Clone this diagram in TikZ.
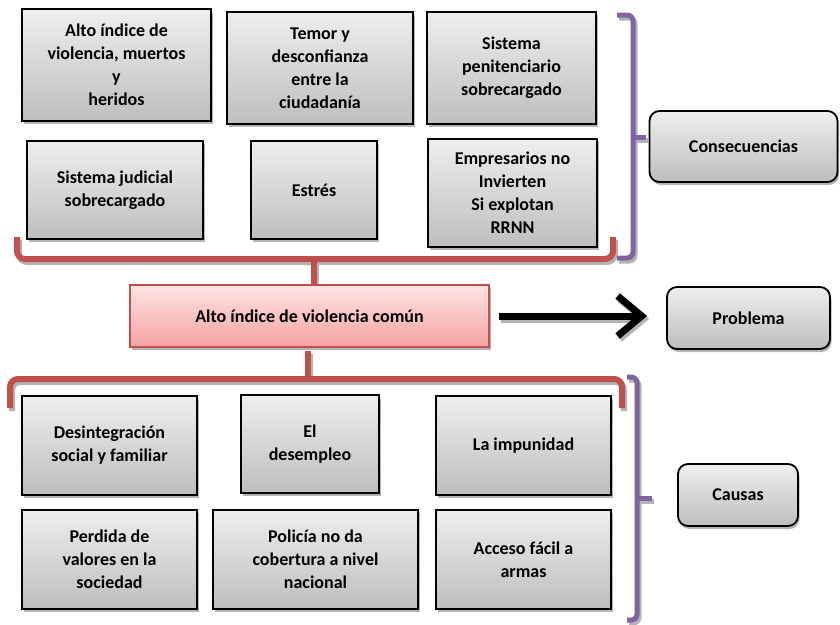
\documentclass[tikz,border=0pt]{standalone}
\usepackage{fontspec}
\setmainfont{Carlito}
\usetikzlibrary{shadows,arrows.meta}
\definecolor{brred}{RGB}{192,80,77}
\definecolor{brpurple}{RGB}{128,100,162}
\definecolor{gtop}{RGB}{238,238,238}
\definecolor{gbot}{RGB}{190,190,190}
\definecolor{rtop}{RGB}{253,228,228}
\definecolor{rbot}{RGB}{245,162,162}
\definecolor{shd}{RGB}{180,180,180}
\tikzset{
  bx/.style={draw=black, line width=1.8pt, top color=gtop, bottom color=gbot,
    drop shadow={shadow xshift=1.5pt, shadow yshift=-3pt, fill=shd, opacity=1},
    align=center, inner sep=0pt, font=\bfseries\fontsize{18}{23}\selectfont},
  rbx/.style={bx, rounded corners=10pt},
  mainbx/.style={bx, draw=brred, line width=1.5pt, top color=rtop, bottom color=rbot},
  redbr/.style={draw=brred, line width=6pt},
  purbr/.style={draw=brpurple, line width=5pt},
  shbr/.style={draw=shd, line width=6pt},
}
\begin{document}
\begin{tikzpicture}[x=1pt,y=-1pt]
\useasboundingbox (0,0) rectangle (840,624);

% bracket shadows
\begin{scope}[shift={(2,3)}]
  \draw[shbr, rounded corners=8pt] (17,237) -- (17,259) -- (613,259) -- (613,237);
  \draw[shbr] (314,259) -- (314,286);
  \draw[shbr, rounded corners=8pt] (10,408) -- (10,379) -- (622,379) -- (622,408);
  \draw[shbr] (308,379) -- (308,351);
  \draw[shbr, line width=5pt, rounded corners=6pt] (617,15) -- (633,15) -- (633,258) -- (617,258);
  \draw[shbr, line width=5pt] (633,137) -- (646,137);
  \draw[shbr, line width=5pt, rounded corners=6pt] (627,377) -- (637,377) -- (637,620) -- (627,620);
  \draw[shbr, line width=5pt] (637,498) -- (652,498);
\end{scope}

% brackets
\draw[redbr, rounded corners=8pt] (17,237) -- (17,259) -- (613,259) -- (613,237);
\draw[redbr] (314,259) -- (314,286);
\draw[redbr, rounded corners=8pt] (10,408) -- (10,379) -- (622,379) -- (622,408);
\draw[redbr] (308,379) -- (308,351);
\draw[purbr, rounded corners=6pt] (617,15) -- (633,15) -- (633,258) -- (617,258);
\draw[purbr] (633,137) -- (646,137);
\draw[purbr, rounded corners=6pt] (627,377) -- (637,377) -- (637,620) -- (627,620);
\draw[purbr] (637,498) -- (652,498);

% consequences
\node[bx, minimum width=189, minimum height=112] (c1) at (116.5,65) {Alto índice de\\violencia, muertos\\y\\heridos};
\node[bx, minimum width=186, minimum height=112] (c2) at (320,68) {Temor y\\desconfianza\\entre la\\ciudadanía};
\node[bx, minimum width=169, minimum height=112] (c3) at (511.5,68) {Sistema\\penitenciario\\sobrecargado};
\node[bx, minimum width=176, minimum height=98] (c4) at (115,190) {Sistema judicial\\sobrecargado};
\node[bx, minimum width=126, minimum height=98] (c5) at (314,190) {Estrés};
\node[bx, minimum width=169, minimum height=108] (c6) at (512.5,193) {Empresarios no\\Invierten\\Si explotan\\RRNN};

% problem
\node[mainbx, minimum width=359, minimum height=62] (main) at (309.5,316) {Alto índice de violencia común};

% causes
\node[bx, minimum width=175, minimum height=99] (k1) at (109.5,445.5) {Desintegración\\social y familiar};
\node[bx, minimum width=138, minimum height=98] (k2) at (310,444) {El\\desempleo};
\node[bx, minimum width=175, minimum height=99] (k3) at (523.5,445.5) {La impunidad};
\node[bx, minimum width=175, minimum height=99] (k4) at (109.5,559.5) {Perdida de\\valores en la\\sociedad};
\node[bx, minimum width=205, minimum height=99] (k5) at (315.5,559.5) {Policía no da\\cobertura a nivel\\nacional};
\node[bx, minimum width=175, minimum height=99] (k6) at (523.5,559.5) {Acceso fácil a\\armas};

% labels
\node[rbx, minimum width=188, minimum height=71] (lcons) at (743.5,146.5) {Consecuencias};
\node[rbx, minimum width=163, minimum height=62] (lprob) at (748.5,318) {Problema};
\node[rbx, minimum width=120, minimum height=62] (lcaus) at (738,495) {Causas};

% arrow
\draw[shd, line width=7pt, -{Straight Barb[length=24pt,width=40pt]}, shorten <=9pt, shorten >=19pt,
  transform canvas={shift={(2pt,-3pt)}}] (main.east) -- (main.east -| lprob.west);
\draw[black, line width=7pt, -{Straight Barb[length=24pt,width=40pt]}, shorten <=9pt, shorten >=19pt]
  (main.east) -- (main.east -| lprob.west);
\end{tikzpicture}
\end{document}
